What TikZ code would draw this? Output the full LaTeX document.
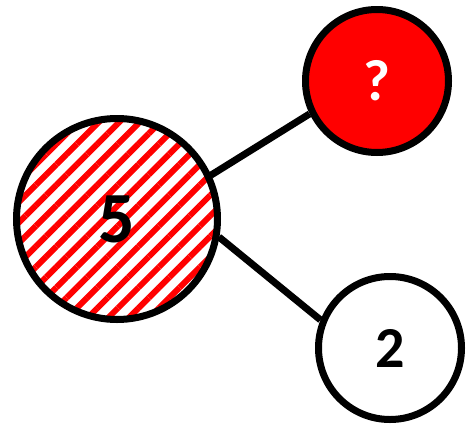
\documentclass[tikz,border=0pt]{standalone}
\usepackage{fontspec}
\setmainfont{Carlito}
\usetikzlibrary{patterns.meta}

\begin{document}
\begin{tikzpicture}[x=1pt,y=-1pt,line width=7pt,
	ball/.style={circle,draw,inner sep=0pt,minimum size=143pt},
	big/.style={font=\fontsize{72}{72}\selectfont\bfseries},
	small/.style={font=\fontsize{58}{58}\selectfont\bfseries}]
				\useasboundingbox (0,0) rectangle (468,426);
				\node [ball,minimum size=201pt,big,pattern={Lines[angle=45,distance=14.5pt,line width=6pt]},pattern color=red] (n5) at (117,219) {5};
				\node [ball,small,fill=red,text=white] (nq) at (377,81) {?};
				\node [ball,small] (n2) at (390,348) {2};
				\draw (n5.25) -- (nq.206);
				\draw (n5.-10) -- (n2.158);
			\end{tikzpicture}
\end{document}
